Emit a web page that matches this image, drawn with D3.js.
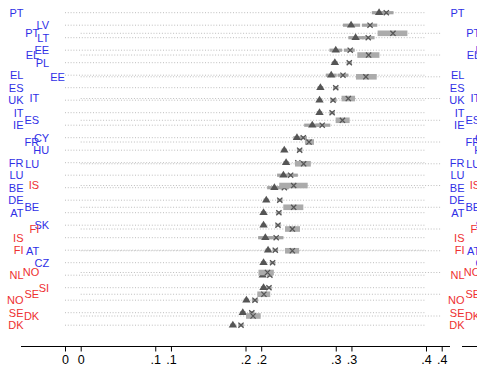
<!DOCTYPE html>
<html><head><meta charset="utf-8">
<script src="https://cdn.jsdelivr.net/npm/d3@7"></script>
<style>body{margin:0;background:#fff}svg{display:block}</style>
</head><body>
<script>
// ---- data ----
const g1Countries = ["PT","LV","LT","EE","PL","EL","ES","UK","IT","IE","CY","HU","FR","LU","BE","DE","AT","SK","IS","FI","CZ","NL","SI","NO","SE","DK"];
const g1Tri   = [.348,.317,.322,.300,.299,.295,.283,.282,.282,.274,.257,.243,.245,.242,.232,.223,.220,.220,.222,.225,.220,.219,.220,.201,.197,.186];
const g1TriLo = [.340,.308,.314,.293,.296,.289,.280,.279,.279,.265,.253,.240,.242,.235,.224,.220,.217,.217,.214,.222,.217,.216,.217,.198,.194,.183];
const g1TriHi = [.357,.327,.331,.307,.302,.301,.286,.285,.285,.283,.260,.246,.248,.247,.239,.226,.223,.223,.229,.228,.223,.222,.223,.204,.200,.189];
const g1X     = [.356,.338,.336,.316,.315,.308,.300,.297,.296,.285,.264,.260,.258,.250,.243,.238,.237,.236,.234,.233,.230,.227,.226,.2105,.207,.195];
const g1XLo   = [.349,.329,.329,.309,.312,.302,.297,.294,.293,.278,.260,.257,.255,.246,.238,.235,.234,.233,.228,.230,.227,.224,.223,.207,.204,.192];
const g1XHi   = [.364,.346,.343,.321,.318,.314,.303,.301,.299,.294,.268,.263,.261,.258,.248,.241,.240,.239,.242,.236,.233,.230,.229,.214,.210,.198];

const g2Countries = ["PT","EL","EE","IT","ES","FR","LU","IS","BE","FI","AT","NO","SE","DK"];
const g2X  = [.346,.319,.316,.2965,.290,.253,.247,.236,.236,.2345,.2345,.207,.203,.191];
const g2Lo = [.329,.3065,.305,.289,.2825,.2485,.2375,.220,.2245,.2264,.2264,.197,.1957,.1832];
const g2Hi = [.362,.331,.328,.304,.298,.2585,.255,.2515,.2467,.243,.242,.214,.210,.1994];

const eastCountries = ["LV","LT","EE","PL","CY","HU","SK","CZ","SI"];
const redCountries  = ["IS","FI","NL","NO","SE","DK","SI"];
const tickValues = [0,.1,.2,.3,.4];
const tickLabels = ["0",".1",".2",".3",".4"];

// ---- layout ----
const W = 477, H = 366;
const svg = d3.select("body").append("svg").attr("width",W).attr("height",H)
  .style("font-family","'Liberation Sans', Arial, Helvetica, sans-serif");

const x1 = d3.scaleLinear().domain([0,.4]).range([65,426]);
const x2 = d3.scaleLinear().domain([0,.4]).range([80.7,441.7]);
const y1 = d3.scalePoint().domain(g1Countries).range([12.7,325.2]);
const y2 = d3.scalePoint().domain(g2Countries).range([33.3,316]);

const BLUE = "#2f2fe6", RED = "#ee3030", MARK = "#555", BAR = "#a3a3a3", BOX = "#ababab";
const col = c => redCountries.includes(c) ? RED : BLUE;

// grid lines
function grid(countries, x, y){
  svg.append("g").selectAll("line").data(countries).join("line")
    .attr("x1", x(0)).attr("x2", x(.4))
    .attr("y1", d => y(d)).attr("y2", d => y(d))
    .attr("stroke","#bdbdbd").attr("stroke-width",1).attr("stroke-dasharray","1,1.8");
}
grid(g1Countries, x1, y1);
grid(g2Countries, x2, y2);

// labels
function labels(countries, y, leftEdge, rightEdge){
  const g = svg.append("g").attr("font-size","11px");
  countries.forEach(c => {
    const off = eastCountries.includes(c) ? 25.7 : 0;
    g.append("text").attr("x", leftEdge + off).attr("y", y(c)).attr("dy","0.36em")
      .attr("text-anchor","end").attr("fill", col(c)).text(c);
    g.append("text").attr("x", rightEdge + off).attr("y", y(c)).attr("dy","0.36em")
      .attr("text-anchor","end").attr("fill", col(c)).text(c);
  });
}
labels(g1Countries, y1, 23.5, 464.5);
labels(g2Countries, y2, 39.2, 480.2);

// graph 1 bars & markers
const g1 = svg.append("g");
g1Countries.forEach((c,i) => {
  const yy = y1(c);
  g1.append("rect").attr("x", x1(g1TriLo[i])).attr("width", x1(g1TriHi[i]) - x1(g1TriLo[i]))
    .attr("y", yy-1.6).attr("height",3.2).attr("fill",BAR);
  g1.append("rect").attr("x", x1(g1XLo[i])).attr("width", x1(g1XHi[i]) - x1(g1XLo[i]))
    .attr("y", yy-1.6).attr("height",3.2).attr("fill",BAR);
});
// graph 2 boxes
const g2 = svg.append("g");
g2Countries.forEach((c,i) => {
  const yy = y2(c);
  g2.append("rect").attr("x", x2(g2Lo[i])).attr("width", x2(g2Hi[i]) - x2(g2Lo[i]))
    .attr("y", yy-2.8).attr("height",5.6).attr("fill",BOX);
});
function xMark(g, cx, cy){
  const s = 2.6;
  g.append("path").attr("d",`M${cx-s},${cy-s}L${cx+s},${cy+s}M${cx-s},${cy+s}L${cx+s},${cy-s}`)
    .attr("stroke",MARK).attr("stroke-width",1.3).attr("fill","none");
}
g1Countries.forEach((c,i) => {
  const yy = y1(c), cx = x1(g1Tri[i]);
  g1.append("path").attr("d",`M${cx},${yy-4.4}L${cx+4.2},${yy+2.4}L${cx-4.2},${yy+2.4}Z`).attr("fill",MARK);
  xMark(g1, x1(g1X[i]), yy);
});
g2Countries.forEach((c,i) => xMark(g2, x2(g2X[i]), y2(c)));

// x axis
const ay = 346.5;
svg.append("line").attr("x1",21).attr("x2",450).attr("y1",ay).attr("y2",ay).attr("stroke","#000");
svg.append("line").attr("x1",462).attr("x2",477).attr("y1",ay).attr("y2",ay).attr("stroke","#000");
function axis(x){
  const a = svg.append("g").attr("transform",`translate(0,${ay})`)
    .call(d3.axisBottom(x).tickValues(tickValues).tickSize(5).tickPadding(4)
      .tickFormat((d,i) => tickLabels[i]));
  a.select(".domain").remove();
  a.selectAll("text").attr("font-size","12.5px").attr("fill","#000")
    .attr("font-family","'Liberation Sans', Arial, sans-serif");
}
axis(x1); axis(x2);
</script>
</body></html>
